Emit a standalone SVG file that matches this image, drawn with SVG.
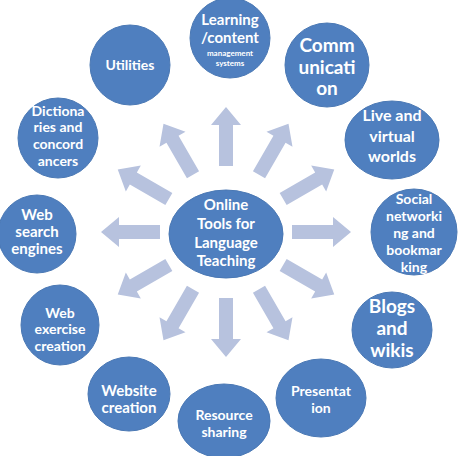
<svg xmlns="http://www.w3.org/2000/svg" width="459" height="456" viewBox="0 0 459 456">
<defs>
<style>
.n{fill:#4f7fbf;stroke:#4a78b4;stroke-width:1}
.t{font-family:Lato,"Open Sans","DejaVu Sans",sans-serif;font-weight:bold;fill:#fff;text-anchor:middle}
.a{fill:#b7c2de}
</style>
<path id="arr" class="a" d="M66,-7 L107,-7 L107,-15 L125,0 L107,15 L107,7 L66,7 Z"/>
</defs>
<rect width="459" height="456" fill="#fff"/>
<g id="connectors" transform="translate(226,232)">
<use href="#arr" transform="rotate(-90)"/>
<use href="#arr" transform="rotate(-60)"/>
<use href="#arr" transform="rotate(-30)"/>
<use href="#arr" transform="rotate(0)"/>
<use href="#arr" transform="rotate(30)"/>
<use href="#arr" transform="rotate(60)"/>
<use href="#arr" transform="rotate(90)"/>
<use href="#arr" transform="rotate(120)"/>
<use href="#arr" transform="rotate(150)"/>
<use href="#arr" transform="rotate(180)"/>
<use href="#arr" transform="rotate(210)"/>
<use href="#arr" transform="rotate(240)"/>
</g>
<g id="center">
<ellipse class="n" cx="226" cy="234" rx="57" ry="44"/>
<text class="t" font-size="15"><tspan x="226" y="210">Online</tspan><tspan x="226" y="229">Tools for</tspan><tspan x="226" y="248">Language</tspan><tspan x="226" y="266">Teaching</tspan></text>
</g>
<g id="learning">
<circle class="n" cx="230" cy="38" r="40"/>
<text class="t" font-size="15"><tspan x="230" y="25">Learning</tspan><tspan x="230" y="43">/content</tspan></text>
<text class="t" font-size="8"><tspan x="230" y="56">management</tspan><tspan x="230" y="66">systems</tspan></text>
</g>
<g id="communication">
<circle class="n" cx="327" cy="65" r="42"/>
<text class="t" font-size="19"><tspan x="327" y="52">Comm</tspan><tspan x="327" y="74">unicati</tspan><tspan x="327" y="95">on</tspan></text>
</g>
<g id="live">
<ellipse class="n" cx="392" cy="140" rx="47" ry="39"/>
<text class="t" font-size="16"><tspan x="392" y="121">Live and</tspan><tspan x="392" y="142">virtual</tspan><tspan x="392" y="162">worlds</tspan></text>
</g>
<g id="social">
<circle class="n" cx="414" cy="232" r="43"/>
<text class="t" font-size="14"><tspan x="414" y="204">Social</tspan><tspan x="414" y="221">networki</tspan><tspan x="414" y="238">ng and</tspan><tspan x="414" y="255">bookmar</tspan><tspan x="414" y="272">king</tspan></text>
</g>
<g id="blogs">
<ellipse class="n" cx="392" cy="330" rx="40" ry="38"/>
<text class="t" font-size="19"><tspan x="392" y="313">Blogs</tspan><tspan x="392" y="335">and</tspan><tspan x="392" y="357">wikis</tspan></text>
</g>
<g id="presentation">
<ellipse class="n" cx="321" cy="398" rx="45" ry="39"/>
<text class="t" font-size="14"><tspan x="321" y="396">Presentat</tspan><tspan x="321" y="413">ion</tspan></text>
</g>
<g id="resource">
<ellipse class="n" cx="224" cy="421" rx="46" ry="37"/>
<text class="t" font-size="14"><tspan x="224" y="420">Resource</tspan><tspan x="224" y="437">sharing</tspan></text>
</g>
<g id="website">
<ellipse class="n" cx="129" cy="394" rx="41" ry="37"/>
<text class="t" font-size="15"><tspan x="129" y="396">Website</tspan><tspan x="129" y="413">creation</tspan></text>
</g>
<g id="webexercise">
<ellipse class="n" cx="60" cy="325" rx="39" ry="40"/>
<text class="t" font-size="14"><tspan x="60" y="318">Web</tspan><tspan x="60" y="334">exercise</tspan><tspan x="60" y="351">creation</tspan></text>
</g>
<g id="websearch">
<circle class="n" cx="37" cy="234" r="39"/>
<text class="t" font-size="15"><tspan x="37" y="220">Web</tspan><tspan x="37" y="237">search</tspan><tspan x="37" y="254">engines</tspan></text>
</g>
<g id="dictionaries">
<circle class="n" cx="58" cy="138" r="40"/>
<text class="t" font-size="14"><tspan x="58" y="116">Dictiona</tspan><tspan x="58" y="132">ries and</tspan><tspan x="58" y="149">concord</tspan><tspan x="58" y="166">ancers</tspan></text>
</g>
<g id="utilities">
<circle class="n" cx="130" cy="65" r="40"/>
<text class="t" font-size="14"><tspan x="130" y="70">Utilities</tspan></text>
</g>
</svg>
